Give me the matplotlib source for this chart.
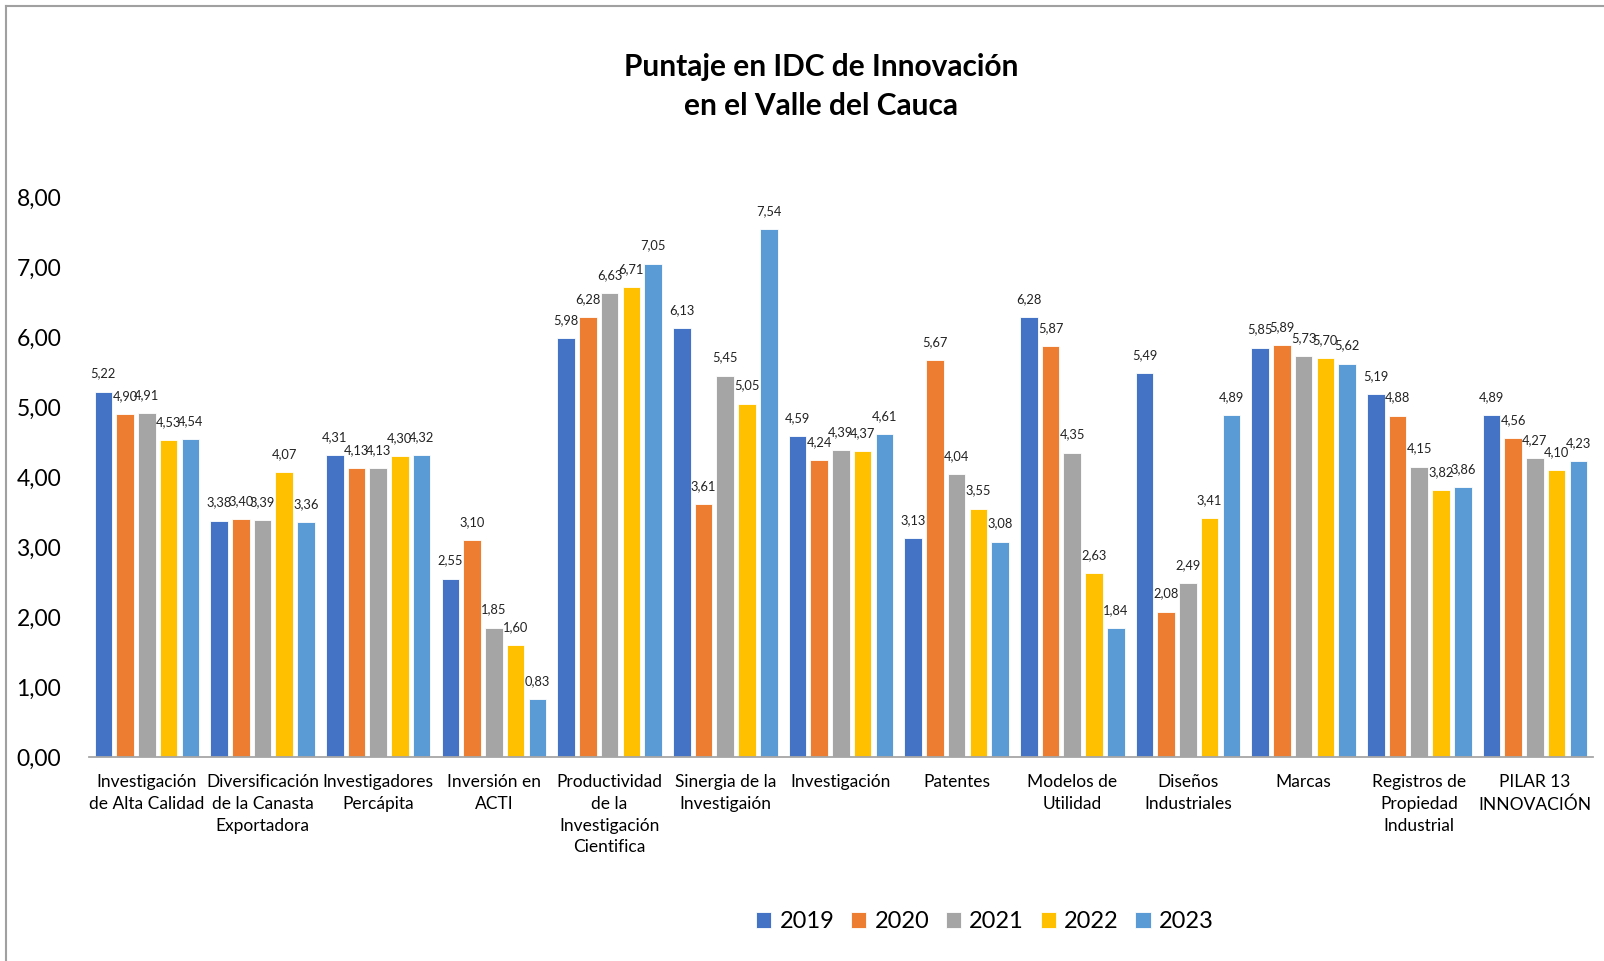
import matplotlib
matplotlib.use('Agg')
from matplotlib import pyplot as plt
from matplotlib.lines import Line2D
import numpy as np

plt.rcParams['font.family'] = ['Lato', 'DejaVu Sans']

categories = ['Investigación\nde Alta Calidad',
              'Diversificación\nde la Canasta\nExportadora',
              'Investigadores\nPercápita',
              'Inversión en\nACTI',
              'Productividad\nde la\nInvestigación\nCientifica',
              'Sinergia de la\nInvestigaión',
              'Investigación',
              'Patentes',
              'Modelos de\nUtilidad',
              'Diseños\nIndustriales',
              'Marcas',
              'Registros de\nPropiedad\nIndustrial',
              'PILAR 13\nINNOVACIÓN']
years = ['2019', '2020', '2021', '2022', '2023']

v2019 = [5.22, 3.38, 4.31, 2.55, 5.98, 6.13, 4.59, 3.13, 6.28, 5.49, 5.85, 5.19, 4.89]
v2020 = [4.90, 3.40, 4.13, 3.10, 6.28, 3.61, 4.24, 5.67, 5.87, 2.08, 5.89, 4.88, 4.56]
v2021 = [4.91, 3.39, 4.13, 1.85, 6.63, 5.45, 4.39, 4.04, 4.35, 2.49, 5.73, 4.15, 4.27]
v2022 = [4.53, 4.07, 4.30, 1.60, 6.71, 5.05, 4.37, 3.55, 2.63, 3.41, 5.70, 3.82, 4.10]
v2023 = [4.54, 3.36, 4.32, 0.83, 7.05, 7.54, 4.61, 3.08, 1.84, 4.89, 5.62, 3.86, 4.23]
series = [v2019, v2020, v2021, v2022, v2023]
colors = ['#4472C4', '#ED7D31', '#A5A5A5', '#FFC000', '#5B9BD5']

fig = plt.figure(figsize=(16.04, 9.61), dpi=100)
ax = fig.add_axes([0.0555, 0.212, 0.9375, 0.583])

x = np.arange(len(categories))
step = 0.188
width = 0.152
for i, (vals, col, yr) in enumerate(zip(series, colors, years)):
    pos = x + (i - 2) * step
    ax.bar(pos, vals, width, color=col, label=yr, edgecolor='white', linewidth=0.6)
    for px, v in zip(pos, vals):
        ax.annotate(f'{v:.2f}'.replace('.', ','), (px, v), xytext=(0, 13),
                    textcoords='offset points', ha='center', va='center',
                    fontsize=9.3, color='#222222')

ax.set_xlim(-0.5, len(categories) - 0.5)
ax.set_ylim(0, 8)
ax.set_yticks(range(0, 9))
ax.set_yticklabels([f'{t},00' for t in range(0, 9)], fontsize=16.5)
ax.set_xticks(x)
ax.set_xticklabels(categories, fontsize=12.5, linespacing=1.45)
ax.tick_params(axis='y', length=0, pad=20)
ax.tick_params(axis='x', length=0, pad=12)
for s in ['top', 'right', 'left']:
    ax.spines[s].set_visible(False)
ax.spines['bottom'].set_color('#A6A6A6')
ax.spines['bottom'].set_linewidth(1.3)

fig.text(0.512, 0.91, 'Puntaje en IDC de Innovación\nen el Valle del Cauca',
         ha='center', va='center', fontsize=21.5, fontweight='bold', linespacing=1.5)

fig.legend(loc='center', bbox_to_anchor=(0.614, 0.041), ncol=5, frameon=False,
           fontsize=17, handlelength=0.65, handleheight=0.65, handletextpad=0.35,
           columnspacing=0.7)

# outer frame (left and top only)
fig.add_artist(Line2D([6 / 1604, 6 / 1604], [0, 1 - 6 / 961], color='#A0A0A0', lw=1.5))
fig.add_artist(Line2D([6 / 1604, 1], [1 - 6 / 961, 1 - 6 / 961], color='#A0A0A0', lw=1.5))

plt.savefig('out.png', dpi=100)
